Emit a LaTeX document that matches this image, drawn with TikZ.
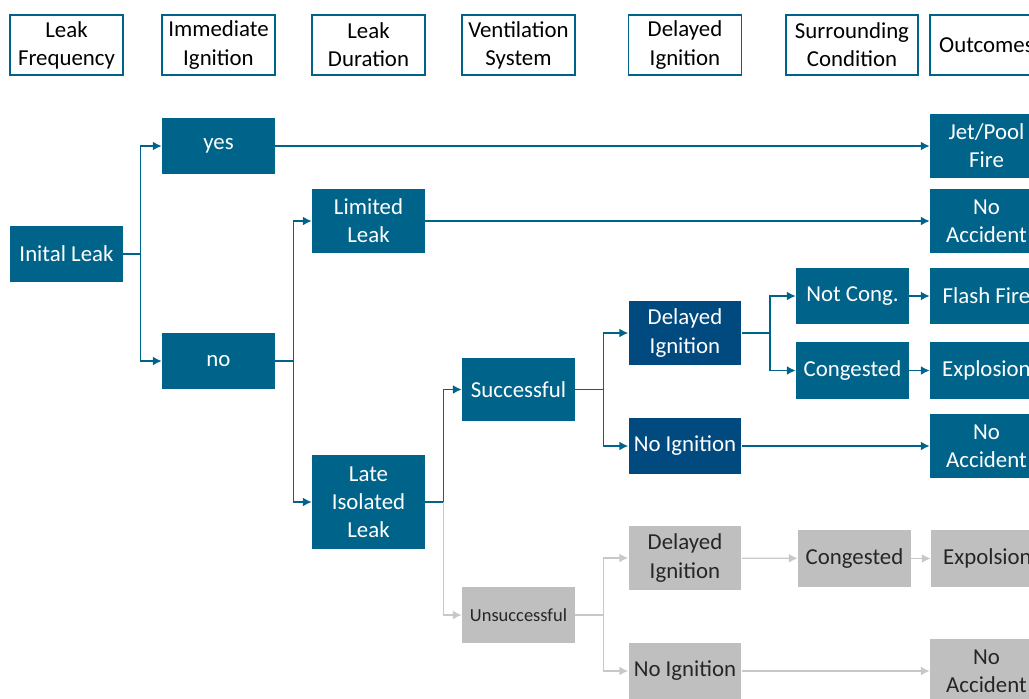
\documentclass[tikz,border=0pt]{standalone}
\usepackage{fontspec}
\setmainfont{Carlito}
\usepackage{xcolor}
\usetikzlibrary{arrows.meta}
\definecolor{evcol}{HTML}{00648A}
\definecolor{darkcol}{HTML}{004A7F}
\definecolor{greycol}{HTML}{BFBFBF}
\definecolor{greyline}{HTML}{C8C8C8}
\tikzset{>={Latex[length=5pt,width=5pt]}}
\tikzstyle{event}=[fill=evcol,text=white,minimum width=2.26cm,align=center,
                   inner sep=0pt,font=\fontsize{13}{16}\selectfont]
\tikzstyle{darkevent}=[event,fill=darkcol]
\tikzstyle{greyevent}=[event,fill=greycol,text=black!85]
\tikzstyle{header}=[draw=evcol,line width=0.8pt,fill=white,minimum height=1.2cm,
                    minimum width=2.26cm,align=center,inner sep=0pt,
                    font=\fontsize{13}{16}\selectfont]
\tikzstyle{link}=[->,evcol,line width=0.75pt]
\tikzstyle{greylink}=[->,greyline,line width=0.75pt]

\begin{document}
\begin{tikzpicture}[x=0.02cm,y=-0.02cm]
  \useasboundingbox (0,0) rectangle (1029,698);
  \clip (0,0) rectangle (1029,698);

  % HEADERS
  \node[header] (hfreq) at (66.5,45) {Leak\\Frequency};
  \node[header] (himm)  at (218.5,45) {Immediate\\Ignition};
  \node[header] (hdur)  at (368.5,45) {Leak\\Duration};
  \node[header] (hvent) at (518.5,45) {Ventilation\\System};
  \node[header] (hdel)  at (685,45) {Delayed\\Ignition};
  \node[header,minimum width=2.64cm] (hsurr) at (852,45) {Surrounding\\Condition};
  \node[header] (hout)  at (986.5,45) {Outcomes};

  % EVENTS
  \node[event,minimum height=1.12cm] (init)    at (66.5,254)  {Inital Leak};
  \node[event,minimum height=1.12cm] (yes)     at (218.5,146) {yes};
  \node[event,minimum height=1.12cm] (no)      at (218.5,361) {no};
  \node[event,minimum height=1.28cm] (limited) at (368.5,221) {Limited\\Leak};
  \node[event,minimum height=1.88cm] (late)    at (368.5,502) {Late\\Isolated\\Leak};
  \node[event,minimum height=1.26cm] (succ)    at (518.5,389.5) {Successful};
  \node[darkevent,minimum height=1.28cm] (delS) at (685,333) {Delayed\\Ignition};
  \node[darkevent,minimum height=1.12cm] (noS)  at (685,446) {No Ignition};
  \node[event,minimum height=1.12cm] (notcong) at (852.5,296) {Not Cong.};
  \node[event,minimum height=1.14cm] (cong)    at (852.5,370.5) {Congested};

  % OUTCOMES
  \node[event,minimum height=1.28cm] (jet)    at (986.5,146) {Jet/Pool\\Fire};
  \node[event,minimum height=1.28cm] (noacc1) at (986.5,221) {No\\Accident};
  \node[event,minimum height=1.12cm] (flash)  at (986.5,296) {Flash Fire};
  \node[event,minimum height=1.14cm] (expl)   at (986.5,370.5) {Explosion};
  \node[event,minimum height=1.28cm] (noacc2) at (986.5,446) {No\\Accident};

  % FAILED VENTILATION
  \node[greyevent,minimum height=1.12cm,font=\fontsize{10.5}{13}\selectfont]
    (unsucc) at (518.5,615) {Unsuccessful};
  \node[greyevent,minimum height=1.28cm] (delU)   at (685,558)   {Delayed\\Ignition};
  \node[greyevent,minimum height=1.14cm] (congU)  at (854.5,558.5) {Congested};
  \node[greyevent,minimum height=1.14cm] (explU)  at (987.5,558.5) {Expolsion};
  \node[greyevent,minimum height=1.12cm] (noignU) at (685,671)   {No Ignition};
  \node[greyevent,minimum height=1.28cm] (noaccU) at (986.5,671) {No\\Accident};

  % BRANCHES
  \draw[link] (init.east) -- ++(17,0) |- (yes.west);
  \draw[link] (init.east) -- ++(17,0) |- (no.west);
  \draw[link] (no.east) -- ++(18,0) |- (limited.west);
  \draw[link] (no.east) -- ++(18,0) |- (late.west);
  \draw[link] (late.east) -- ++(18,0) coordinate (fork) |- (succ.west);
  \draw[greylink] (fork) |- (unsucc.west);
  \draw[link] (succ.east) -- ++(28,0) |- (delS.west);
  \draw[link] (succ.east) -- ++(28,0) |- (noS.west);
  \draw[link] (delS.east) -- ++(28,0) |- (notcong.west);
  \draw[link] (delS.east) -- ++(28,0) |- (cong.west);
  \draw[greylink] (unsucc.east) -- ++(28,0) |- (delU.west);
  \draw[greylink] (unsucc.east) -- ++(28,0) |- (noignU.west);

  % STRAIGHT LINKS
  \draw[link] (yes) -- (jet);
  \draw[link] (limited) -- (noacc1);
  \draw[link] (notcong) -- (flash);
  \draw[link] (cong) -- (expl);
  \draw[link] (noS) -- (noacc2);
  \draw[greylink] (delU) -- (congU);
  \draw[greylink] (congU) -- (explU);
  \draw[greylink] (noignU) -- (noaccU);

\end{tikzpicture}
\end{document}
